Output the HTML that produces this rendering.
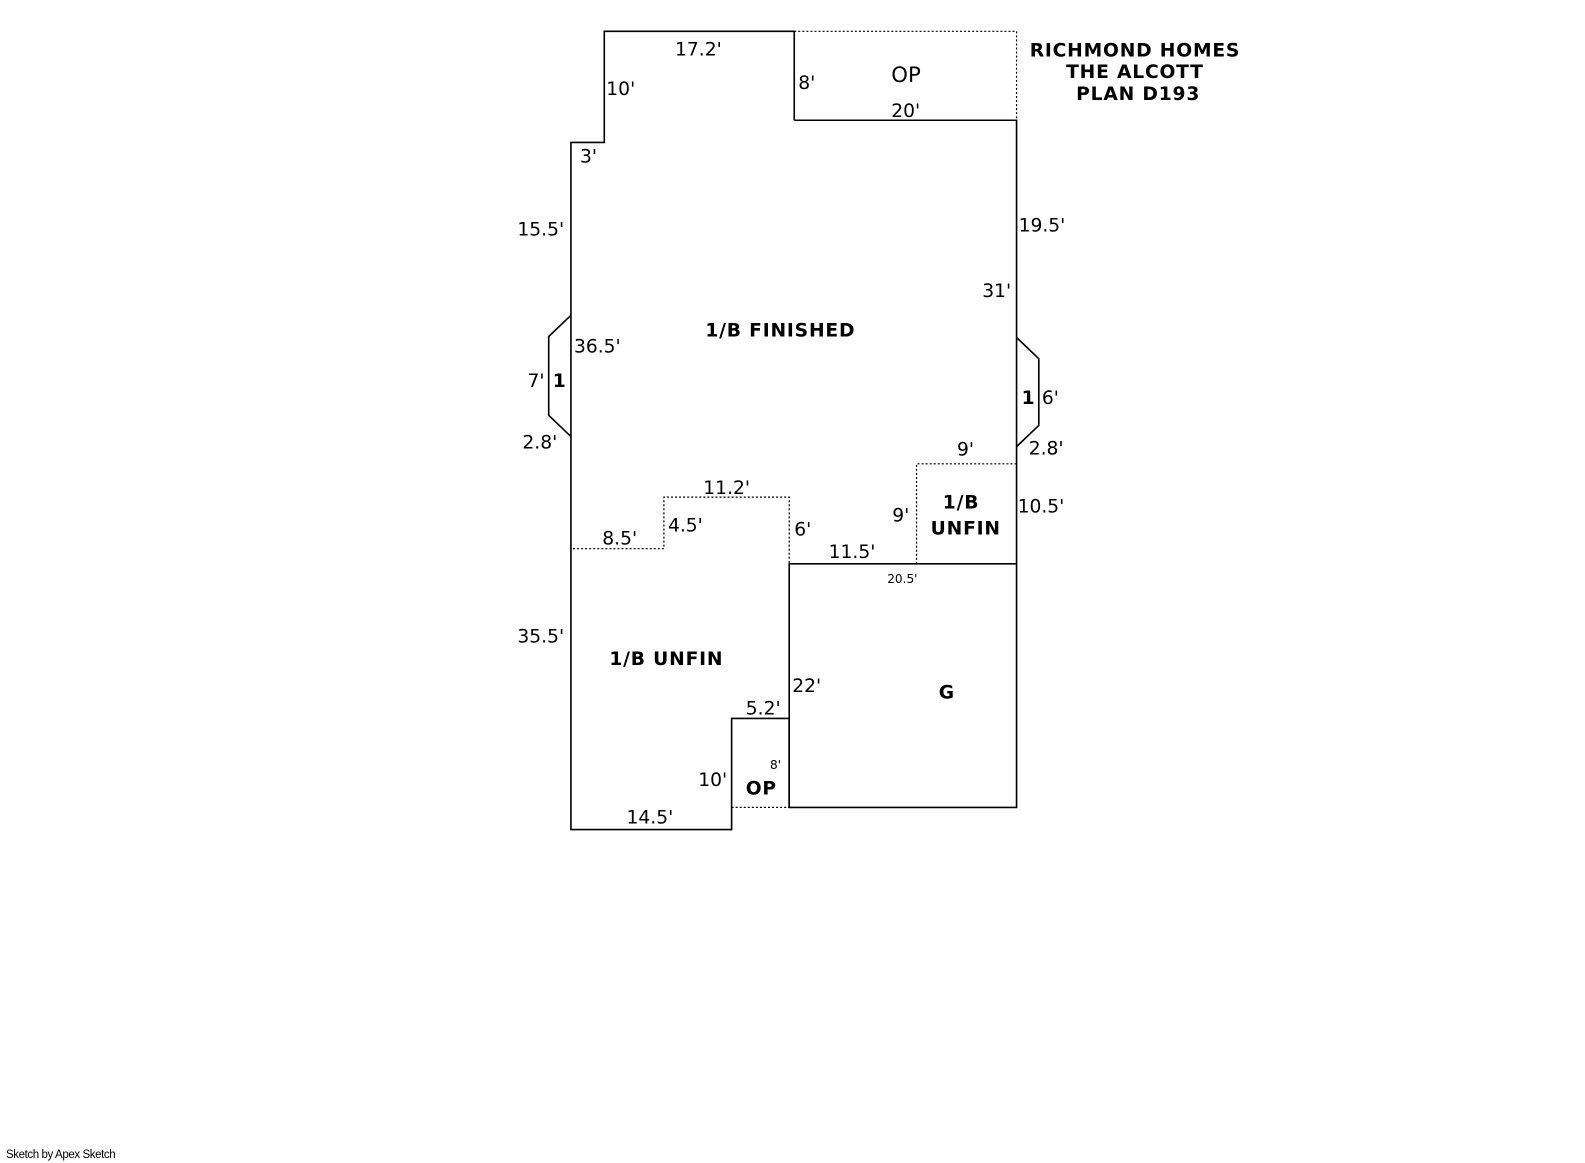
<!DOCTYPE html>
<html><head><meta charset="utf-8"><style>
html,body{margin:0;padding:0;background:#fff;}
svg{display:block;}
text{font-family:"DejaVu Sans","Liberation Sans",sans-serif;font-size:18.5px;fill:#000;}
.b{font-weight:bold;font-size:18.5px;letter-spacing:0.8px;}
.s{font-size:12px;}
</style></head><body>
<svg width="1585" height="1163" viewBox="0 0 1585 1163" xmlns="http://www.w3.org/2000/svg">
<g transform="scale(1.0105)">
<g stroke="#000" stroke-width="1.6" fill="none">
<polyline points="786,119 786,31 598,31 598,141 565,141 565,821 724,821 724,711 781,711 781,799 1006,799 1006,119 786,119"/>
<polyline points="565,312 543,333 543,411 565,432"/>
<polyline points="1006,334 1028,355 1028,421 1006,442"/>
<polyline points="781,799 781,558 1006,558"/>
</g>
<g stroke="#000" stroke-width="1.2" fill="none" stroke-dasharray="2,2">
<polyline points="786,31 1006,31 1006,119"/>
<polyline points="1006,459 907,459 907,558"/>
<polyline points="567,543 657,543 657,492 781,492 781,558"/>
<line x1="724" y1="799" x2="781" y2="799"/>
</g>
<text x="668" y="55">17.2'</text>
<text x="600" y="94">10'</text>
<text x="790" y="88">8'</text>
<text x="882" y="81" style="font-size:21px">OP</text>
<text x="882" y="116">20'</text>
<text x="574" y="161">3'</text>
<text x="512" y="233">15.5'</text>
<text x="1008" y="229">19.5'</text>
<text x="972" y="294">31'</text>
<text class="b" x="698" y="333">1/B FINISHED</text>
<text x="568" y="349">36.5'</text>
<text x="522" y="383">7'</text>
<text class="b" x="547" y="383">1</text>
<text x="517" y="444">2.8'</text>
<text class="b" x="1011" y="400">1</text>
<text x="1031" y="400">6'</text>
<text x="1018" y="450">2.8'</text>
<text x="947" y="451">9'</text>
<text x="696" y="489">11.2'</text>
<text class="b" x="933" y="503">1/B</text>
<text class="b" x="921" y="529">UNFIN</text>
<text x="1007" y="507">10.5'</text>
<text x="883" y="516">9'</text>
<text x="661" y="526">4.5'</text>
<text x="786" y="530">6'</text>
<text x="596" y="539">8.5'</text>
<text x="820" y="552">11.5'</text>
<text class="s" x="878" y="577">20.5'</text>
<text x="512" y="636">35.5'</text>
<text class="b" x="603" y="658">1/B UNFIN</text>
<text x="784" y="685">22'</text>
<text class="b" x="929" y="691">G</text>
<text x="738" y="707">5.2'</text>
<text class="s" x="762" y="761">8'</text>
<text x="691" y="778">10'</text>
<text class="b" x="738" y="786">OP</text>
<text x="620" y="815">14.5'</text>
<text class="b" x="1019" y="56">RICHMOND HOMES</text>
<text class="b" x="1055" y="77">THE ALCOTT</text>
<text class="b" x="1065" y="99">PLAN D193</text>
</g>
<text x="6" y="1158" style="font-size:11.5px;font-family:'Liberation Sans',sans-serif;letter-spacing:-0.4px">Sketch by Apex Sketch</text>
</svg>
</body></html>
